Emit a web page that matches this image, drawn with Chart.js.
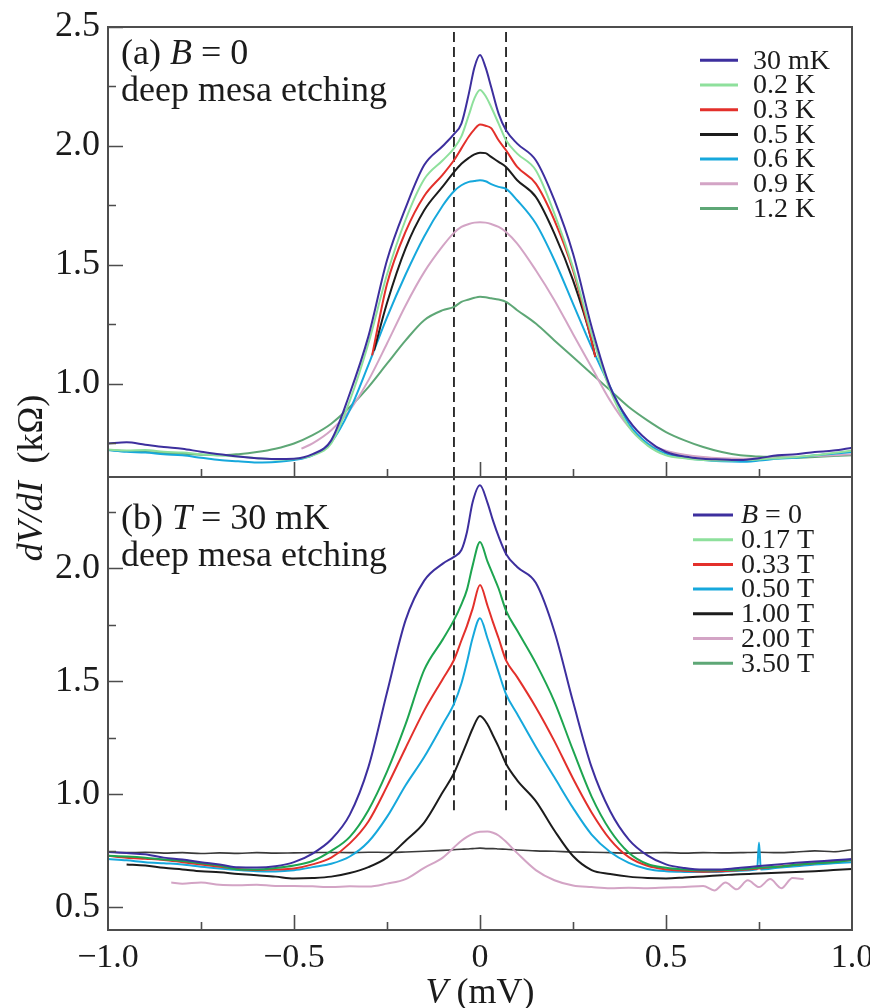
<!DOCTYPE html>
<html><head><meta charset="utf-8">
<script src="https://cdn.jsdelivr.net/npm/chart.js@4.4.1/dist/chart.umd.min.js"></script>
<style>
html,body{margin:0;padding:0;background:#fff;}
#wrap{position:relative;width:870px;height:1008px;overflow:hidden;}
canvas{position:absolute;left:0;top:0;}
</style></head><body>
<div id="wrap"><canvas id="c1" width="870" height="1008"></canvas><canvas id="c2" width="870" height="1008"></canvas></div>
<script>
// ---------- tick labels ----------
const xTicks = [-1,-0.75,-0.5,-0.25,0,0.25,0.5,0.75,1];
const yTicksTop = [0.75,1.0,1.25,1.5,1.75,2.0,2.25,2.5];
const yTicksBot = [0.5,0.75,1.0,1.25,1.5,1.75,2.0,2.25];
const yRangeTop = [0.609, 2.5];
const yRangeBot = [0.4, 2.403];
const xRange = [-1, 1];
// dashed marker lines (V = ±0.07)
const dashV = [-0.07, 0.07];
const dashSpanTop = [0.609, 2.5];
const dashSpanBot = [0.93, 2.403];

// ---------- panel (a): B = 0, various T ----------
const legendTop = ['30 mK','0.2 K','0.3 K','0.5 K','0.6 K','0.9 K','1.2 K'];
const vTop = [-1.0,-0.95,-0.9,-0.85,-0.8,-0.75,-0.7,-0.65,-0.6,-0.55,-0.5,-0.45,-0.4,-0.35,-0.3,-0.25,-0.2,-0.15,-0.1,
  -0.07,-0.05,-0.03,-0.015,0,0.015,0.03,0.05,0.07,
  0.1,0.15,0.2,0.25,0.3,0.35,0.4,0.45,0.5,0.55,0.6,0.65,0.7,0.75,0.8,0.85,0.9,0.95,1.0];
const t30mK = [0.75,0.755,0.745,0.735,0.728,0.715,0.705,0.695,0.688,0.685,0.686,0.705,0.763,0.96,1.20,1.52,1.74,1.92,2.0,
  2.05,2.094,2.22,2.33,2.382,2.33,2.248,2.136,2.066,
  2.01,1.94,1.772,1.548,1.24,0.987,0.847,0.763,0.714,0.695,0.686,0.683,0.68,0.688,0.70,0.705,0.714,0.72,0.732];
const t02K = [0.725,0.72,0.722,0.715,0.712,0.705,0.70,0.695,0.688,0.683,0.685,0.70,0.75,0.93,1.17,1.46,1.69,1.86,1.94,
  1.99,2.04,2.13,2.20,2.235,2.21,2.164,2.094,2.024,
  1.968,1.898,1.716,1.49,1.21,0.973,0.82,0.742,0.70,0.688,0.68,0.678,0.68,0.683,0.688,0.693,0.70,0.71,0.72];
const vRed = [-0.29,-0.25,-0.2,-0.15,-0.1,-0.07,-0.05,-0.03,-0.015,0,0.015,0.03,0.05,0.07,0.1,0.15,0.2,0.25,0.3,0.31];
const t03K = [1.12,1.42,1.64,1.79,1.88,1.94,1.99,2.04,2.07,2.09,2.085,2.075,2.024,1.982,1.912,1.842,1.688,1.478,1.18,1.113];
const vBlack = [-0.285,-0.25,-0.2,-0.15,-0.1,-0.07,-0.05,-0.03,-0.015,0,0.015,0.03,0.05,0.07,0.1,0.15,0.2,0.25,0.3,0.31];
const t05K = [1.14,1.34,1.57,1.73,1.83,1.89,1.925,1.95,1.965,1.972,1.97,1.954,1.933,1.912,1.856,1.786,1.632,1.436,1.183,1.113];
const t06K = [0.722,0.715,0.712,0.705,0.70,0.69,0.68,0.675,0.67,0.672,0.68,0.70,0.755,0.89,1.08,1.28,1.46,1.62,1.75,
  1.81,1.835,1.849,1.853,1.856,1.852,1.84,1.828,1.82,
  1.772,1.674,1.52,1.338,1.155,0.987,0.833,0.75,0.707,0.69,0.68,0.675,0.673,0.678,0.686,0.69,0.70,0.707,0.714];
const vPinkTop = [-0.48,-0.45,-0.4,-0.35,-0.3,-0.25,-0.2,-0.15,-0.1,
  -0.07,-0.05,-0.03,-0.015,0,0.015,0.03,0.05,0.07,
  0.1,0.15,0.2,0.25,0.3,0.35,0.4,0.45,0.5,0.55,0.6,0.65,0.7,0.75,0.8,0.85,0.9,0.95,1.0];
const t09K = [0.728,0.75,0.805,0.89,1.015,1.17,1.33,1.47,1.58,
  1.635,1.66,1.672,1.678,1.68,1.678,1.672,1.66,1.639,
  1.59,1.478,1.352,1.21,1.07,0.93,0.82,0.75,0.72,0.703,0.693,0.688,0.686,0.688,0.69,0.693,0.697,0.70,0.705];
const t12K = [0.722,0.718,0.714,0.71,0.707,0.703,0.70,0.705,0.714,0.728,0.75,0.785,0.833,0.903,0.987,1.085,1.183,1.268,1.31,
  1.324,1.345,1.355,1.362,1.366,1.364,1.36,1.355,1.345,
  1.31,1.254,1.183,1.113,1.043,0.973,0.903,0.847,0.798,0.763,0.735,0.714,0.70,0.695,0.693,0.69,0.693,0.697,0.70];

// ---------- panel (b): T = 30 mK, various B ----------
const legendBot = ['B = 0','0.17 T','0.33 T','0.50 T','1.00 T','2.00 T','3.50 T'];
const vBot = [-1.0,-0.95,-0.9,-0.85,-0.8,-0.75,-0.7,-0.65,-0.6,-0.55,-0.5,-0.45,-0.4,-0.35,-0.3,-0.25,-0.2,-0.15,-0.1,
  -0.07,-0.05,-0.035,-0.02,0,0.02,0.035,0.05,0.07,
  0.1,0.15,0.2,0.25,0.3,0.35,0.4,0.45,0.5,0.55,0.6,0.65,0.7,0.75,0.8,0.85,0.9,0.95,1.0];
const bB0 = [0.745,0.74,0.735,0.72,0.712,0.70,0.69,0.677,0.676,0.682,0.70,0.738,0.80,0.91,1.12,1.45,1.77,1.945,2.02,
  2.05,2.08,2.16,2.29,2.366,2.29,2.21,2.14,2.063,
  2.005,1.935,1.72,1.41,1.12,0.925,0.80,0.73,0.69,0.674,0.667,0.668,0.675,0.683,0.69,0.697,0.703,0.708,0.714];
const b017 = [0.728,0.725,0.72,0.712,0.705,0.695,0.685,0.668,0.668,0.674,0.685,0.705,0.75,0.812,0.93,1.10,1.31,1.55,1.685,
  1.77,1.84,1.905,2.01,2.116,2.03,1.97,1.91,1.812,
  1.724,1.58,1.41,1.195,0.99,0.84,0.742,0.692,0.675,0.667,0.663,0.665,0.668,0.675,0.68,0.688,0.695,0.70,0.71];
const b033 = [0.728,0.72,0.715,0.71,0.70,0.69,0.68,0.67,0.665,0.667,0.672,0.69,0.72,0.783,0.88,1.035,1.205,1.37,1.51,
  1.594,1.68,1.745,1.82,1.925,1.835,1.76,1.69,1.592,
  1.518,1.385,1.235,1.07,0.92,0.80,0.722,0.684,0.668,0.662,0.658,0.66,0.665,0.672,0.68,0.688,0.695,0.702,0.71];
const vCyan = [-1.0,-0.95,-0.9,-0.85,-0.8,-0.75,-0.7,-0.65,-0.6,-0.55,-0.5,-0.45,-0.4,-0.35,-0.3,-0.25,-0.2,-0.15,-0.1,
  -0.07,-0.05,-0.035,-0.02,0,0.02,0.035,0.05,0.07,
  0.1,0.15,0.2,0.25,0.3,0.35,0.4,0.45,0.5,0.55,0.6,0.65,0.7,0.745,0.75,0.755,0.8,0.85,0.9,0.95,1.0];
const b050 = [0.714,0.708,0.70,0.695,0.69,0.68,0.672,0.665,0.66,0.659,0.664,0.678,0.693,0.725,0.79,0.90,1.04,1.165,1.31,
  1.40,1.49,1.585,1.69,1.778,1.69,1.615,1.54,1.443,
  1.355,1.21,1.075,0.94,0.822,0.745,0.697,0.67,0.66,0.657,0.656,0.658,0.662,0.668,0.787,0.668,0.675,0.682,0.69,0.695,0.70];
const vB100 = [-0.95,-0.9,-0.85,-0.8,-0.75,-0.7,-0.65,-0.6,-0.55,-0.5,-0.45,-0.4,-0.35,-0.3,-0.25,-0.2,-0.15,-0.1,
  -0.07,-0.05,-0.035,-0.02,0,0.02,0.035,0.05,0.07,
  0.1,0.15,0.2,0.25,0.3,0.35,0.4,0.45,0.5,0.55,0.6,0.65,0.7,0.75,0.8,0.85,0.9,0.95,1.0];
const b100 = [0.69,0.685,0.675,0.668,0.66,0.655,0.648,0.642,0.636,0.628,0.63,0.636,0.652,0.678,0.72,0.795,0.875,1.01,
  1.093,1.17,1.23,1.29,1.346,1.31,1.26,1.21,1.135,
  1.062,0.97,0.84,0.727,0.665,0.648,0.636,0.63,0.628,0.632,0.637,0.642,0.647,0.65,0.653,0.656,0.66,0.665,0.67];
const vB200 = [-0.83,-0.8,-0.75,-0.7,-0.65,-0.6,-0.55,-0.5,-0.45,-0.4,-0.35,-0.3,-0.25,-0.2,-0.15,-0.1,
  -0.07,-0.05,-0.035,-0.02,0,0.02,0.035,0.05,0.07,
  0.1,0.15,0.2,0.25,0.3,0.35,0.4,0.45,0.5,0.55,0.6,0.63,0.66,0.69,0.72,0.75,0.78,0.81,0.84,0.87];
const b200 = [0.61,0.605,0.61,0.60,0.598,0.60,0.595,0.595,0.593,0.59,0.593,0.592,0.605,0.625,0.675,0.72,
  0.765,0.795,0.812,0.825,0.834,0.836,0.83,0.818,0.79,
  0.74,0.665,0.62,0.597,0.59,0.585,0.587,0.585,0.588,0.59,0.595,0.575,0.61,0.58,0.62,0.59,0.625,0.585,0.63,0.625];
const b350 = [0.745,0.742,0.744,0.74,0.742,0.738,0.741,0.739,0.742,0.74,0.741,0.742,0.743,0.742,0.744,0.743,0.745,0.748,0.752,
  0.755,0.757,0.758,0.76,0.762,0.76,0.76,0.758,0.757,
  0.754,0.75,0.748,0.745,0.744,0.742,0.74,0.741,0.742,0.74,0.742,0.741,0.742,0.744,0.742,0.745,0.75,0.746,0.755];

// ---------- helpers ----------
const FONT = '"Liberation Serif", "Times New Roman", serif';
const TXT = '#1b1b1b';
const pts = (xs, ys) => xs.map((x, i) => ({x, y: ys[i]}));
const isMajor = v => Math.abs(v * 2 - Math.round(v * 2)) < 1e-6;
const fmtX = v => Math.abs(v) < 1e-9 ? '0' : (v < 0 ? '\u2212' + Math.abs(v).toFixed(1) : v.toFixed(1));

function rich(ctx, parts, x, y, size, align) {
  let total = 0;
  const ws = parts.map(p => { ctx.font = (p[1] ? 'italic ' : '') + size + 'px ' + FONT; const w = ctx.measureText(p[0]).width; total += w; return w; });
  let cx = align === 'center' ? x - total / 2 : x;
  parts.forEach((p, i) => { ctx.font = (p[1] ? 'italic ' : '') + size + 'px ' + FONT; ctx.fillText(p[0], cx, y); cx += ws[i]; });
}
function labelParts(s) {
  if (s.startsWith('B ')) return [['B', true], [s.slice(1), false]];
  return [[s, false]];
}

function line(ds, color, w) {
  return {data: ds, borderColor: color, borderWidth: w || 2, pointRadius: 0, fill: false,
    cubicInterpolationMode: 'monotone', tension: 0.3};
}
function dash(x, span) {
  return {data: [{x, y: span[0]}, {x, y: span[1]}], borderColor: '#111', borderWidth: 1.7,
    borderDash: [10, 5], pointRadius: 0, fill: false, tension: 0};
}

const framePlugin = (cfg) => ({
  id: 'frame' + cfg.name,
  afterDatasetsDraw(chart) {
    const {ctx, chartArea: a} = chart;
    const xs = chart.scales.x, ys = chart.scales.y;
    ctx.save();
    ctx.strokeStyle = '#4d4d4d';
    ctx.lineWidth = 1.6;
    ctx.beginPath();
    cfg.yTicks.forEach(v => {
      const p = Math.round(ys.getPixelForValue(v)) + 0.5;
      const L = isMajor(v) ? 15 : 8;
      ctx.moveTo(a.left, p); ctx.lineTo(a.left + L, p);
    });
    xTicks.forEach(v => {
      if (Math.abs(v) === 1) return;
      const p = Math.round(xs.getPixelForValue(v)) + 0.5;
      const L = isMajor(v) ? 15 : 8;
      ctx.moveTo(p, a.bottom); ctx.lineTo(p, a.bottom - L);
    });
    ctx.stroke();
    ctx.lineWidth = 2;
    ctx.strokeRect(a.left, a.top, a.right - a.left, a.bottom - a.top);
    // panel label
    ctx.fillStyle = TXT;
    ctx.textBaseline = 'alphabetic';
    ctx.textAlign = 'left';
    rich(ctx, cfg.title1, 121, cfg.titleY, 36, 'left');
    rich(ctx, [['deep mesa etching', false]], 121, cfg.titleY + 37, 36, 'left');
    // legend
    ctx.textBaseline = 'middle';
    cfg.legend.forEach((lab, i) => {
      const y = cfg.legY + i * 24.7;
      ctx.strokeStyle = cfg.legColors[i];
      ctx.lineWidth = 3;
      ctx.beginPath(); ctx.moveTo(cfg.legX0, y); ctx.lineTo(cfg.legX1, y); ctx.stroke();
      ctx.fillStyle = TXT;
      rich(ctx, labelParts(lab), cfg.legTx, y + 1, 28, 'left');
    });
    if (cfg.axisTitles) {
      ctx.textBaseline = 'alphabetic';
      rich(ctx, [['V', true], [' (mV)', false]], 480, 1003, 36, 'center');
      ctx.save();
      ctx.translate(42, 478);
      ctx.rotate(-Math.PI / 2);
      rich(ctx, [['dV/dI', true], ['  (k\u03a9)', false]], 0, 0, 36, 'center');
      ctx.restore();
    }
    ctx.restore();
  }
});

Chart.defaults.font.family = FONT;
Chart.defaults.color = TXT;

function yScale(range, ticks) {
  return {
    type: 'linear', min: range[0], max: range[1],
    afterBuildTicks: s => { s.ticks = ticks.map(v => ({value: v})); },
    afterFit: s => { s.width = 108; s.paddingTop = 0; s.paddingBottom = 0; },
    grid: {display: false, drawTicks: false}, border: {display: false},
    ticks: {padding: 8, color: TXT, font: {size: 36, family: FONT}, autoSkip: false,
      callback: v => isMajor(v) ? v.toFixed(1) : ''}
  };
}

const colTop = ['#3d2f9e', '#8ee09c', '#e3302b', '#1c1c1c', '#16a8dc', '#d3a4c5', '#5ea776'];
new Chart(document.getElementById('c1'), {
  type: 'line',
  data: {datasets: [
    line(pts(vTop, t30mK), colTop[0]),
    line(pts(vTop, t02K), colTop[1]),
    line(pts(vRed, t03K), colTop[2]),
    line(pts(vBlack, t05K), colTop[3]),
    line(pts(vTop, t06K), colTop[4]),
    line(pts(vPinkTop, t09K), colTop[5]),
    line(pts(vTop, t12K), colTop[6]),
    dash(dashV[0], dashSpanTop), dash(dashV[1], dashSpanTop)
  ]},
  options: {
    responsive: false, animation: false, devicePixelRatio: 1,
    layout: {padding: {top: 27, bottom: 531, left: 0, right: 18}, autoPadding: false},
    plugins: {legend: {display: false}, tooltip: {enabled: false}},
    scales: {
      x: {type: 'linear', min: xRange[0], max: xRange[1], display: false},
      y: yScale(yRangeTop, yTicksTop)
    }
  },
  plugins: [framePlugin({name: 'a', yTicks: yTicksTop, title1: [['(a) ', false], ['B', true], [' = 0', false]], titleY: 64,
    legend: legendTop, legColors: colTop, legY: 60.3, legX0: 700, legX1: 738, legTx: 753, axisTitles: false})]
});

const colBot = ['#3d2f9e', '#1ea550', '#e3302b', '#16a8dc', '#1c1c1c', '#d3a4c5', '#3a3a3a'];
const legColBot = ['#3d2f9e', '#8ee09c', '#e3302b', '#16a8dc', '#1c1c1c', '#d3a4c5', '#5ea776'];
new Chart(document.getElementById('c2'), {
  type: 'line',
  data: {datasets: [
    line(pts(vBot, bB0), colBot[0]),
    line(pts(vBot, b017), colBot[1]),
    line(pts(vBot, b033), colBot[2]),
    line(pts(vCyan, b050), colBot[3]),
    line(pts(vB100, b100), colBot[4]),
    line(pts(vB200, b200), colBot[5]),
    line(pts(vBot, b350), colBot[6], 1.6),
    dash(dashV[0], dashSpanBot), dash(dashV[1], dashSpanBot)
  ]},
  options: {
    responsive: false, animation: false, devicePixelRatio: 1,
    layout: {padding: {top: 477, bottom: 0, left: 0, right: 18}, autoPadding: false},
    plugins: {legend: {display: false}, tooltip: {enabled: false}},
    scales: {
      x: {type: 'linear', min: xRange[0], max: xRange[1],
        afterBuildTicks: s => { s.ticks = xTicks.map(v => ({value: v})); },
        afterFit: s => { s.height = 78; s.paddingLeft = 0; s.paddingRight = 0; },
        grid: {display: false, drawTicks: false}, border: {display: false},
        ticks: {padding: 8, color: TXT, font: {size: 34, family: FONT}, autoSkip: false, maxRotation: 0,
          callback: v => isMajor(v) ? fmtX(v) : ''}},
      y: yScale(yRangeBot, yTicksBot)
    }
  },
  plugins: [framePlugin({name: 'b', yTicks: yTicksBot, title1: [['(b) ', false], ['T', true], [' = 30 mK', false]], titleY: 529,
    legend: legendBot, legColors: legColBot, legY: 515, legX0: 693, legX1: 733, legTx: 741, axisTitles: true})]
});
</script>
</body></html>
